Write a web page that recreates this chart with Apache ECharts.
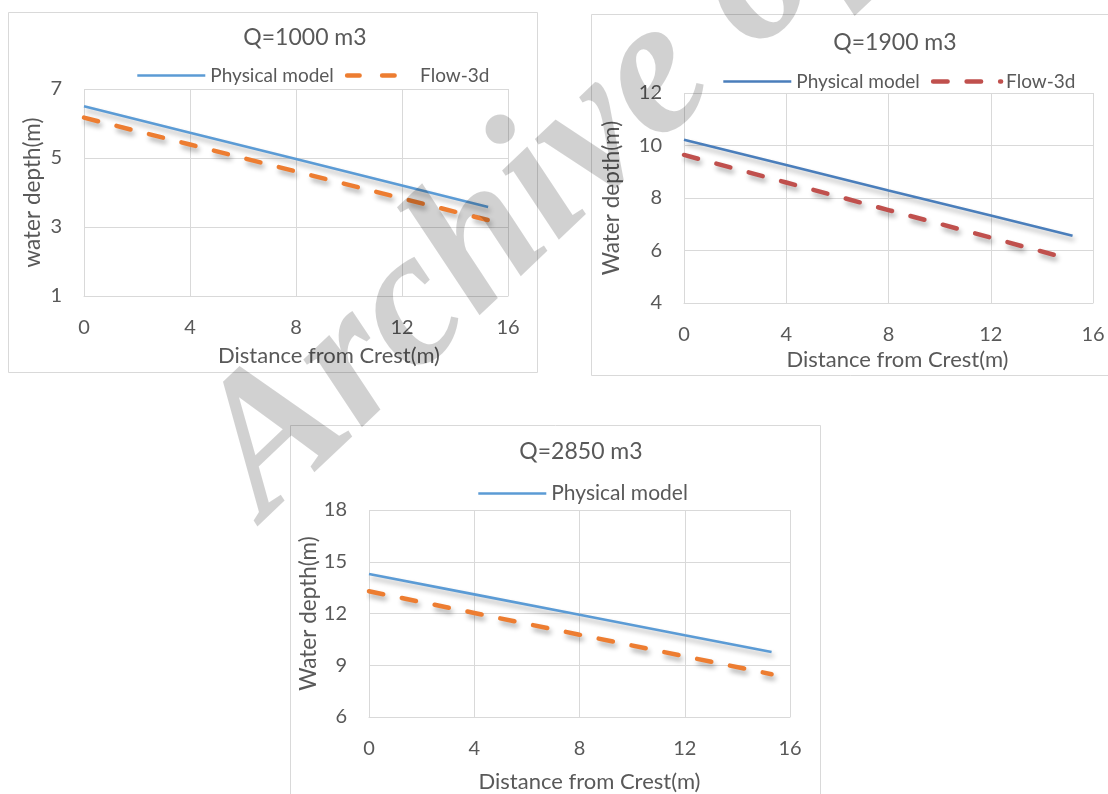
<!DOCTYPE html>
<html>
<head>
<meta charset="utf-8">
<script src="https://cdn.jsdelivr.net/npm/echarts@6/dist/echarts.min.js"></script>
<style>
html, body { margin: 0; padding: 0; background: #fff; }
#main { width: 1108px; height: 794px; }
</style>
</head>
<body>
<div id="main"></div>
<script>
// values
var q1000Dist = [0, 4, 8, 12, 15.25];
var q1000Physical = [6.5, 5.73, 4.97, 4.2, 3.58];
var q1000FlowDist = [0, 4, 8, 12, 15.3];
var q1000Flow = [6.17, 5.39, 4.61, 3.83, 3.19];

var q1900Dist = [0, 4, 8, 12, 15.2];
var q1900Physical = [10.22, 9.26, 8.29, 7.33, 6.56];
var q1900FlowDist = [0, 4, 8, 12, 14.5];
var q1900Flow = [9.64, 8.59, 7.54, 6.49, 5.83];

var q2850Dist = [0, 4, 8, 12, 15.3];
var q2850Physical = [14.29, 13.11, 11.93, 10.74, 9.77];
var q2850Flow = [13.29, 12.03, 10.77, 9.52, 8.48];

var titles = ['Q=1000 m3', 'Q=1900 m3', 'Q=2850 m3'];
var yNames = ['water depth(m)', 'Water depth(m)', 'Water depth(m)'];
var xName = 'Distance from Crest(m)';

var textColor = '#595959';
var gridColor = '#d9d9d9';
var font = 'Lato';
var dashPattern = [14.5, 19];

function pairs(xs, ys) {
    return xs.map(function (x, i) { return [x, ys[i]]; });
}

function shadowed(style) {
    style.shadowColor = 'rgba(0,0,0,0.32)';
    style.shadowBlur = 5;
    style.shadowOffsetX = 2;
    style.shadowOffsetY = 4;
    return style;
}

function solid(color) {
    return shadowed({ color: color, width: 2.6, type: 'solid' });
}
function dashed(color) {
    return shadowed({ color: color, width: 4.5, type: dashPattern, cap: 'round' });
}

// legend entry: plain line, no marker
function legendItem(name, color, dash) {
    return {
        name: name,
        lineStyle: dash
            ? { color: color, width: 4.5, type: dash, cap: 'round' }
            : { color: color, width: 2.6, type: 'solid' },
        itemStyle: { color: 'transparent', borderColor: 'transparent', borderWidth: 0, opacity: 0 }
    };
}

function xAxisFor(idx, nameGap, shift) {
    return {
        type: 'value', gridIndex: idx, min: 0, max: 16, interval: 4,
        name: xName, nameLocation: 'middle', nameGap: nameGap,
        nameTextStyle: { color: textColor, fontSize: 22, fontFamily: font, padding: [0, 0, 0, shift * 2] },
        axisLine: { show: true, lineStyle: { color: gridColor } },
        axisTick: { show: false },
        axisLabel: { color: textColor, fontSize: 20, fontFamily: font, margin: 22 },
        splitLine: { show: true, lineStyle: { color: gridColor } }
    };
}
function yAxisFor(idx, min, max, interval, name, nameGap) {
    return {
        type: 'value', gridIndex: idx, min: min, max: max, interval: interval,
        name: name, nameLocation: 'middle', nameGap: nameGap,
        nameTextStyle: { color: textColor, fontSize: 22.5, fontFamily: font },
        axisLine: { show: false },
        axisTick: { show: false },
        axisLabel: { color: textColor, fontSize: 20, fontFamily: font, margin: 22 },
        splitLine: { show: true, lineStyle: { color: gridColor } }
    };
}

var chart = echarts.init(document.getElementById('main'));

var legendLine = { shadowBlur: 0, shadowOffsetX: 0, shadowOffsetY: 0, shadowColor: 'transparent' };

var option = {
    backgroundColor: '#fff',
    animation: false,
    textStyle: { fontFamily: font },
    title: [
        { text: titles[0], left: 300, top: 33, textAlign: 'center', textVerticalAlign: 'middle',
          textStyle: { color: textColor, fontSize: 23, fontWeight: 'normal', fontFamily: font } },
        { text: titles[1], left: 890, top: 38, textAlign: 'center', textVerticalAlign: 'middle',
          textStyle: { color: textColor, fontSize: 23, fontWeight: 'normal', fontFamily: font } },
        { text: titles[2], left: 576, top: 447, textAlign: 'center', textVerticalAlign: 'middle',
          textStyle: { color: textColor, fontSize: 23, fontWeight: 'normal', fontFamily: font } }
    ],
    legend: [
        { left: 131, top: 61, itemWidth: 68, itemHeight: 14, itemGap: 11, selectedMode: false,
          textStyle: { color: textColor, fontSize: 19, fontFamily: font },
          lineStyle: legendLine,
          data: [legendItem('Physical model', '#5B9BD5'), legendItem('Flow-3d', '#ED7D31', [12.5, 22.5])] },
        { left: 717, top: 67, itemWidth: 68, itemHeight: 14, itemGap: 11, selectedMode: false,
          textStyle: { color: textColor, fontSize: 19, fontFamily: font },
          lineStyle: legendLine,
          data: [legendItem('Physical model', '#4A7EBB'), legendItem('Flow-3d', '#C0504D', dashPattern)] },
        { left: 472, top: 478, itemWidth: 68, itemHeight: 14, selectedMode: false,
          textStyle: { color: textColor, fontSize: 21, fontFamily: font },
          lineStyle: legendLine,
          data: [legendItem('Physical model', '#5B9BD5')] }
    ],
    grid: [
        { left: 84, top: 89, width: 424, height: 207 },
        { left: 684, top: 93, width: 409, height: 210 },
        { left: 369, top: 510, width: 421, height: 208 }
    ],
    xAxis: [
        xAxisFor(0, 49, 33),
        xAxisFor(1, 46, 9),
        xAxisFor(2, 54, 10)
    ],
    yAxis: [
        yAxisFor(0, 1, 7, 2, yNames[0], 40),
        yAxisFor(1, 4, 12, 2, yNames[1], 61),
        yAxisFor(2, 6, 18, 3, yNames[2], 46)
    ],
    graphic: [
        { type: 'rect', z: -1, silent: true, shape: { x: 8.5, y: 12.5, width: 529, height: 360 },
          style: { fill: 'none', stroke: gridColor, lineWidth: 1 } },
        { type: 'rect', z: -1, silent: true, shape: { x: 591.5, y: 14.5, width: 600, height: 361 },
          style: { fill: 'none', stroke: gridColor, lineWidth: 1 } },
        { type: 'rect', z: -1, silent: true, shape: { x: 290.5, y: 425.5, width: 530, height: 400 },
          style: { fill: 'none', stroke: gridColor, lineWidth: 1 } },
        { type: 'text', z: 100, silent: true, x: 230, y: 483, rotation: 0.76,
          style: { text: 'Archive of SID', font: 'italic bold 195px "Liberation Serif"',
                   fill: 'rgba(0,0,0,0.18)', align: 'left', verticalAlign: 'middle' } }
    ],
    series: [
        { name: 'Physical model', type: 'line', xAxisIndex: 0, yAxisIndex: 0, symbol: 'none',
          data: pairs(q1000Dist, q1000Physical), lineStyle: solid('#5B9BD5'), itemStyle: { color: '#5B9BD5' } },
        { name: 'Flow-3d', type: 'line', xAxisIndex: 0, yAxisIndex: 0, symbol: 'none',
          data: pairs(q1000FlowDist, q1000Flow), lineStyle: dashed('#ED7D31'), itemStyle: { color: '#ED7D31' } },
        { name: 'Physical model', type: 'line', xAxisIndex: 1, yAxisIndex: 1, symbol: 'none',
          data: pairs(q1900Dist, q1900Physical), lineStyle: solid('#4A7EBB'), itemStyle: { color: '#4A7EBB' } },
        { name: 'Flow-3d', type: 'line', xAxisIndex: 1, yAxisIndex: 1, symbol: 'none',
          data: pairs(q1900FlowDist, q1900Flow), lineStyle: dashed('#C0504D'), itemStyle: { color: '#C0504D' } },
        { name: 'Physical model', type: 'line', xAxisIndex: 2, yAxisIndex: 2, symbol: 'none',
          data: pairs(q2850Dist, q2850Physical), lineStyle: solid('#5B9BD5'), itemStyle: { color: '#5B9BD5' } },
        { name: 'Flow-3d', type: 'line', xAxisIndex: 2, yAxisIndex: 2, symbol: 'none',
          data: pairs(q2850Dist, q2850Flow), lineStyle: dashed('#ED7D31'), itemStyle: { color: '#ED7D31' } }
    ]
};

chart.setOption(option);
</script>
</body>
</html>
